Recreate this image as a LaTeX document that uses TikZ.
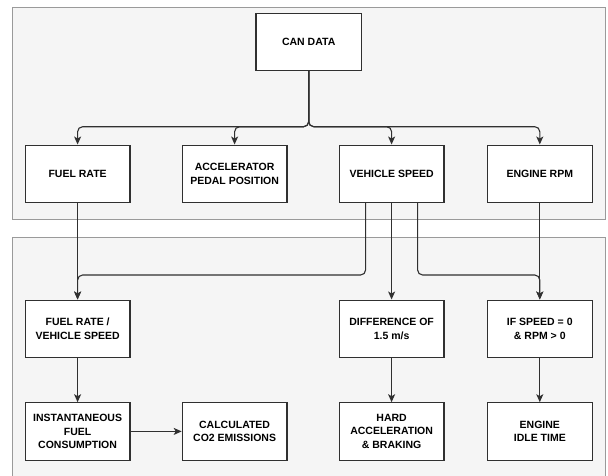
\documentclass[tikz,border=0pt]{standalone}
\usepackage{fontspec}
\setmainfont{Liberation Sans}
\usetikzlibrary{arrows.meta}
\definecolor{panelfill}{HTML}{F5F5F5}
\definecolor{paneldraw}{HTML}{9A9A9A}
\definecolor{boxdraw}{HTML}{303030}
\definecolor{linecol}{HTML}{303030}
\begin{document}
\begin{tikzpicture}[x=1pt,y=-1pt,
  panel/.style={fill=panelfill,draw=paneldraw,line width=1pt},
  box/.style={draw=boxdraw,fill=white,line width=1.1pt,minimum width=104.7pt,minimum height=57.3pt,
    inner sep=2pt,align=center,font=\fontsize{10.5}{13.8}\selectfont\bfseries},
  conn/.style={draw=linecol,line width=1.1pt,rounded corners=5pt},
  arr/.style={conn,-{Stealth[length=8pt,width=7pt,inset=2pt]}}]
\clip (0,0) rectangle (608,475);
\fill[white] (0,0) rectangle (608,475);
\draw[panel] (12.4,7.3) rectangle (605,219.3);
\draw[panel] (12,237) rectangle (605,495);
% row 0
\node[box,minimum width=105.5pt,minimum height=56.7pt] (can) at (308.7,41.7) {CAN DATA};
% row 1
\node[box] (fr)  at (77.6,173.7)  {FUEL RATE};
\node[box] (acc) at (234.6,173.7) {ACCELERATOR\\PEDAL POSITION};
\node[box] (vs)  at (391.6,173.7) {VEHICLE SPEED};
\node[box] (rpm) at (539.8,173.7) {ENGINE RPM};
% row 2
\node[box] (frvs) at (77.6,328.7)  {FUEL RATE /\\VEHICLE SPEED};
\node[box] (diff) at (391.6,328.7) {DIFFERENCE OF\\1.5 m/s};
\node[box] (ifs)  at (539.8,328.7) {IF SPEED = 0\\\&\ RPM > 0};
% row 3
\node[box] (ifc)  at (77.6,431.4)  {INSTANTANEOUS\\FUEL\\CONSUMPTION};
\node[box] (co2)  at (234.6,431.4) {CALCULATED\\CO2 EMISSIONS};
\node[box] (hard) at (391.6,431.4) {HARD\\ACCELERATION\\\&\ BRAKING};
\node[box] (idle) at (539.8,431.4) {ENGINE\\IDLE TIME};
% helper coordinates
\coordinate (bus) at (308.7,126.7);
\coordinate (vsl) at ([xshift=-26pt]vs.south);
\coordinate (vsr) at ([xshift=26pt]vs.south);
\coordinate (jl) at (vsl |- 0,275);
\coordinate (jr) at (vsr |- 0,275);
% connectors from CAN DATA
\draw[arr] (can.south) -- (bus) -| (fr.north);
\draw[arr] (can.south) -- (bus) -| (acc.north);
\draw[arr] (can.south) -- (bus) -| (vs.north);
\draw[arr] (can.south) -- (bus) -| (rpm.north);
% lower connectors
\draw[arr] (fr.south) -- (frvs.north);
\draw[arr] (vsl) -- (jl) -| (frvs.north);
\draw[arr] (vs.south) -- (diff.north);
\draw[arr] (vsr) -- (jr) -| (ifs.north);
\draw[arr] (rpm.south) -- (ifs.north);
\draw[arr] (frvs.south) -- (ifc.north);
\draw[arr] (ifc.east) -- (co2.west);
\draw[arr] (diff.south) -- (hard.north);
\draw[arr] (ifs.south) -- (idle.north);
\end{tikzpicture}
\end{document}
